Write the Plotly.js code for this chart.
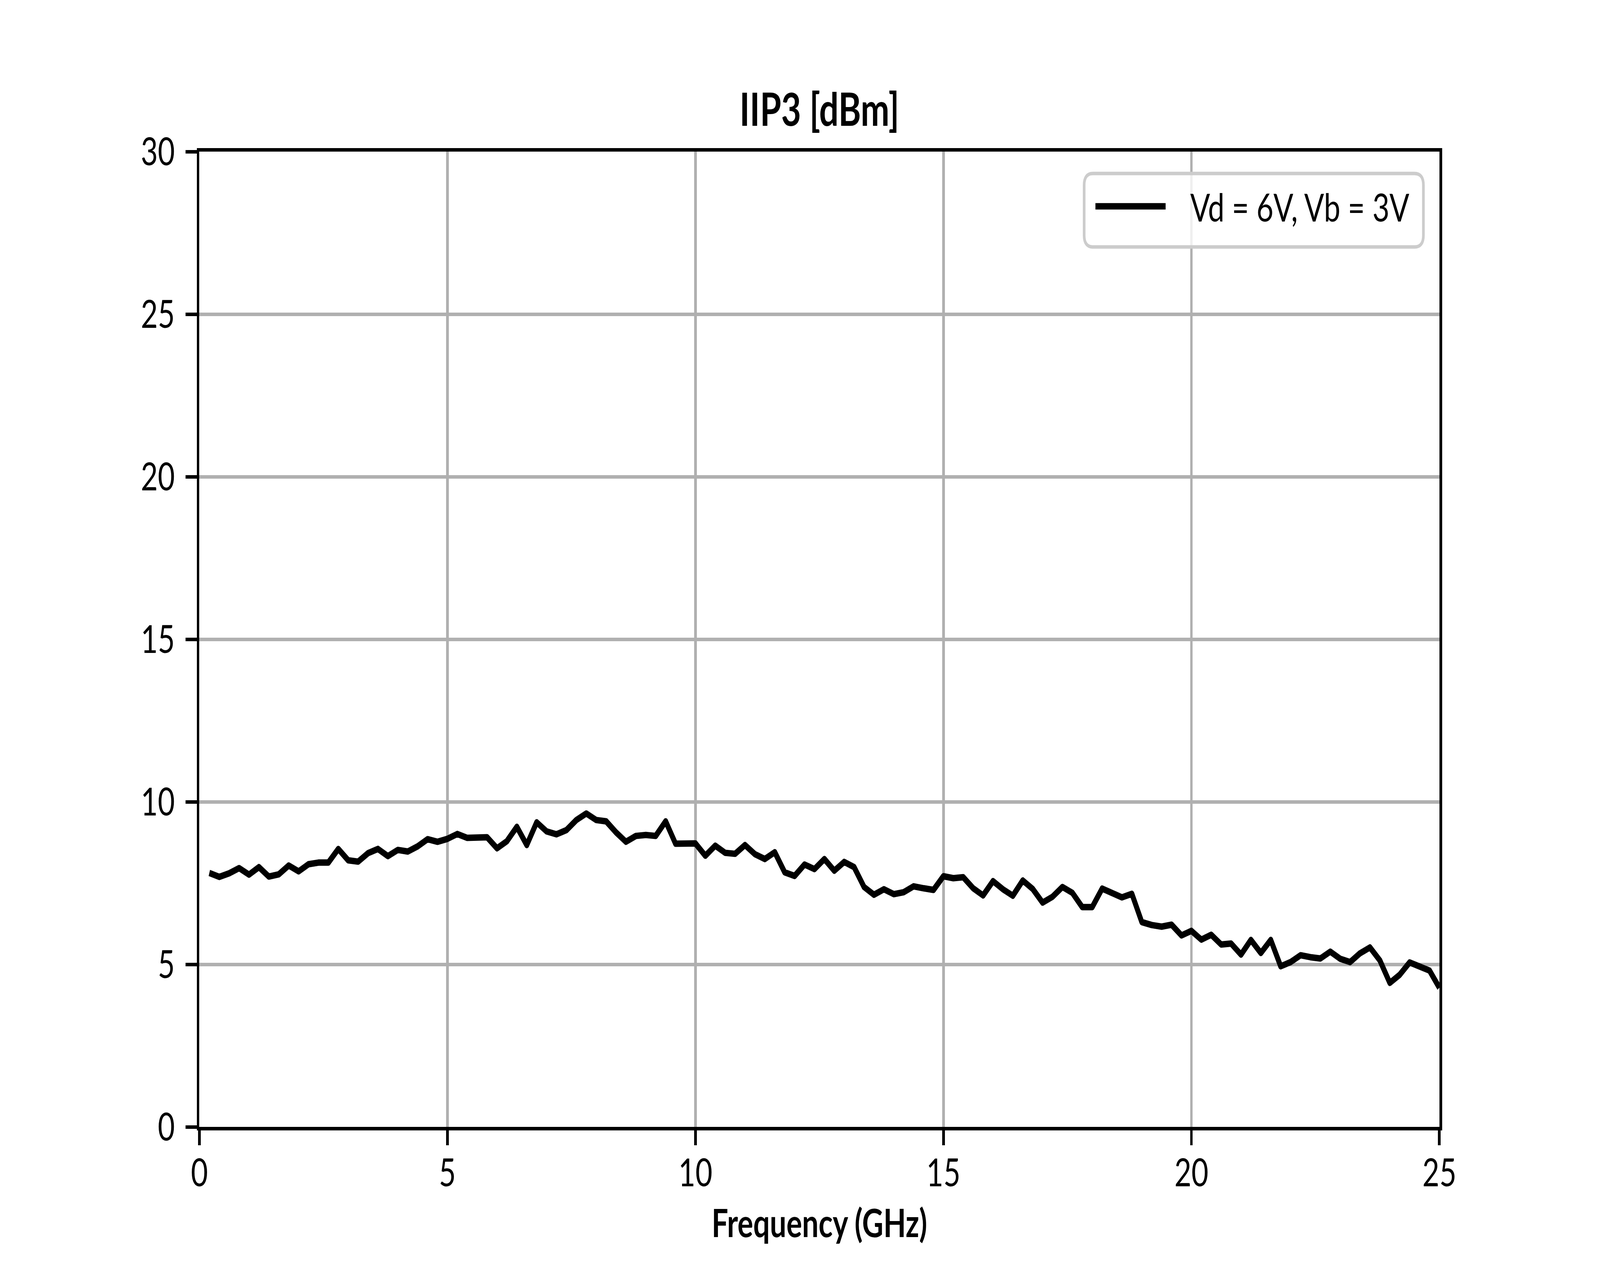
<!DOCTYPE html>
<html>
<head>
<meta charset="utf-8">
<script src="https://cdn.plot.ly/plotly-3.0.1.min.js"></script>
<style>
  html, body { margin: 0; padding: 0; background: #fff; overflow: hidden; }
  #plot { width: 5400px; height: 3240px; transform-origin: 0 0; }
  .scatterlayer .js-line { stroke-linejoin: round; }
</style>
</head>
<body>
<div id="plot"></div>
<script>
// frequency grid (GHz)
const freqGHz = [
  0.2, 0.4, 0.6, 0.8, 1.0, 1.2, 1.4, 1.6, 1.8, 2.0,
  2.2, 2.4, 2.6, 2.8, 3.0, 3.2, 3.4, 3.6, 3.8, 4.0,
  4.2, 4.4, 4.6, 4.8, 5.0, 5.2, 5.4, 5.6, 5.8, 6.0,
  6.2, 6.4, 6.6, 6.8, 7.0, 7.2, 7.4, 7.6, 7.8, 8.0,
  8.2, 8.4, 8.6, 8.8, 9.0, 9.2, 9.4, 9.6, 9.8, 10.0,
  10.2, 10.4, 10.6, 10.8, 11.0, 11.2, 11.4, 11.6, 11.8, 12.0,
  12.2, 12.4, 12.6, 12.8, 13.0, 13.2, 13.4, 13.6, 13.8, 14.0,
  14.2, 14.4, 14.6, 14.8, 15.0, 15.2, 15.4, 15.6, 15.8, 16.0,
  16.2, 16.4, 16.6, 16.8, 17.0, 17.2, 17.4, 17.6, 17.8, 18.0,
  18.2, 18.4, 18.6, 18.8, 19.0, 19.2, 19.4, 19.6, 19.8, 20.0,
  20.2, 20.4, 20.6, 20.8, 21.0, 21.2, 21.4, 21.6, 21.8, 22.0,
  22.2, 22.4, 22.6, 22.8, 23.0, 23.2, 23.4, 23.6, 23.8, 24.0,
  24.2, 24.4, 24.6, 24.8, 25.0
];

// IIP3 in dBm at Vd = 6V, Vb = 3V
const iip3 = [
  7.81, 7.69, 7.80, 7.96, 7.76, 7.99, 7.70, 7.77, 8.04, 7.86,
  8.08, 8.13, 8.13, 8.55, 8.20, 8.16, 8.42, 8.55, 8.33, 8.52,
  8.47, 8.63, 8.85, 8.77, 8.86, 9.01, 8.89, 8.90, 8.91, 8.57,
  8.79, 9.23, 8.67, 9.37, 9.09, 9.00, 9.13, 9.44, 9.64, 9.44,
  9.40, 9.06, 8.77, 8.95, 8.98, 8.95, 9.40, 8.71, 8.72, 8.72,
  8.34, 8.65, 8.43, 8.40, 8.67, 8.39, 8.24, 8.45, 7.83, 7.72,
  8.07, 7.93, 8.24, 7.88, 8.15, 7.99, 7.38, 7.14, 7.31, 7.16,
  7.22, 7.40, 7.34, 7.29, 7.71, 7.65, 7.68, 7.34, 7.12, 7.56,
  7.31, 7.11, 7.58, 7.32, 6.90, 7.08, 7.38, 7.20, 6.76, 6.76,
  7.33, 7.18, 7.06, 7.17, 6.30, 6.21, 6.16, 6.22, 5.89, 6.03,
  5.76, 5.91, 5.61, 5.64, 5.30, 5.75, 5.35, 5.75, 4.94, 5.07,
  5.28, 5.22, 5.18, 5.39, 5.17, 5.07, 5.34, 5.52, 5.12, 4.43,
  4.68, 5.06, 4.91, 4.81, 4.28
];

const seriesName = 'Vd = 6V, Vb = 3V';
const xTicks = [0, 5, 10, 15, 20, 25];
const yTicks = [0, 5, 10, 15, 20, 25, 30];

const FONT = 'Lato, "Open Sans", "DejaVu Sans", sans-serif';

// laid out at 5400x3240; the browser window can be smaller, so the whole
// figure is squeezed into whatever viewport we actually get
const el = document.getElementById('plot');
const sx = (window.innerWidth || 5400) / 5400;
const sy = (window.innerHeight || 3240) / 3240;
el.style.transform = `scale(${sx}, ${sy})`;

// legend frame drawn by hand, in paper units (matplotlib-style rounded box)
function roundedBox(x0, y0, x1, y1, rx, ry) {
  return `M${x0 + rx},${y0} L${x1 - rx},${y0} Q${x1},${y0} ${x1},${y0 + ry} ` +
    `L${x1},${y1 - ry} Q${x1},${y1} ${x1 - rx},${y1} L${x0 + rx},${y1} ` +
    `Q${x0},${y1} ${x0},${y1 - ry} L${x0},${y0 + ry} Q${x0},${y0} ${x0 + rx},${y0} Z`;
}

const legendY = 0.9439;

const data = [{
  type: 'scatter',
  mode: 'lines',
  name: seriesName,
  x: freqGHz,
  y: iip3,
  line: { color: '#000000', width: 16.5 },
  showlegend: false,
  hoverinfo: 'x+y'
}];

const axisCommon = {
  showline: true,
  mirror: true,
  linecolor: '#000000',
  linewidth: 9,
  showgrid: true,
  gridcolor: '#b0b0b0',
  gridwidth: 9,
  zeroline: false,
  ticks: 'outside',
  ticklen: 38,
  tickwidth: 9,
  tickcolor: '#000000',
  tickfont: { family: FONT, size: 99, color: '#000000' }
};

const layout = {
  width: 5400,
  height: 3240,
  paper_bgcolor: '#ffffff',
  plot_bgcolor: '#ffffff',
  margin: { l: 673, r: 542, t: 388, b: 356, pad: 0 },
  font: { family: FONT, color: '#000000' },
  title: {
    text: '<b>IIP3 [dBm]</b>',
    font: { family: FONT, size: 116, color: '#000000' },
    x: 0.5,
    xref: 'paper',
    xanchor: 'center',
    y: 1 - 322 / 3240,
    yref: 'container',
    yanchor: 'bottom'
  },
  xaxis: Object.assign({}, axisCommon, {
    range: [0, 25],
    tickvals: xTicks,
    ticktext: xTicks.map(String),
    ticklabelstandoff: -14,
    title: {
      text: '<b>Frequency (GHz)</b>',
      font: { family: FONT, size: 99, color: '#000000' },
      standoff: 44
    }
  }),
  yaxis: Object.assign({}, axisCommon, {
    range: [0, 30],
    tickvals: yTicks,
    ticktext: yTicks.map(String),
    ticklabelstandoff: 16
  }),
  shapes: [
    {
      type: 'path',
      xref: 'paper', yref: 'paper',
      path: roundedBox(0.7135, 0.9022, 0.9871, 0.9776, 0.0072, 0.012),
      fillcolor: 'rgba(255,255,255,0.8)',
      line: { color: '#cccccc', width: 9 },
      layer: 'above'
    },
    {
      type: 'line',
      xref: 'paper', yref: 'paper',
      x0: 0.7226, x1: 0.7792, y0: legendY, y1: legendY,
      line: { color: '#000000', width: 16.5 },
      layer: 'above'
    }
  ],
  annotations: [{
    xref: 'paper', yref: 'paper',
    x: 0.7986, y: legendY,
    xanchor: 'left', yanchor: 'middle',
    showarrow: false,
    text: seriesName,
    font: { family: FONT, size: 99, color: '#000000' }
  }]
};

Plotly.newPlot(el, data, layout, { staticPlot: true, displayModeBar: false });
</script>
</body>
</html>
